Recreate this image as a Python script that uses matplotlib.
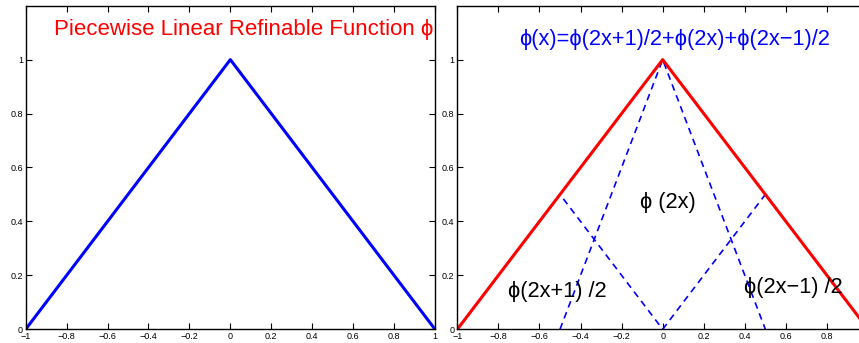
import matplotlib
matplotlib.use("Agg")
import matplotlib.pyplot as plt
from matplotlib.ticker import FuncFormatter

# hat function phi and its refinement pieces
hat_x = [-1, 0, 1]
hat_y = [0, 1, 0]
left_half_x = [-1, -0.5, 0]      # phi(2x+1)/2
left_half_y = [0, 0.5, 0]
mid_x = [-0.5, 0, 0.5]           # phi(2x)
mid_y = [0, 1, 0]
right_half_x = [0, 0.5, 1]       # phi(2x-1)/2
right_half_y = [0, 0.5, 0]

xticks = [-1, -0.8, -0.6, -0.4, -0.2, 0, 0.2, 0.4, 0.6, 0.8, 1]
yticks = [0, 0.2, 0.4, 0.6, 0.8, 1]

fam = ['Liberation Sans', 'DejaVu Sans']
plt.rcParams['font.family'] = fam


def fmt(v, pos):
    s = '%g' % round(v, 4)
    return s.replace('-', '\u2212')


def fmt_right(v, pos):
    # last label falls outside the picture in the original
    return '' if v > 0.99 else fmt(v, pos)


def style(ax):
    ax.set_xlim(-1, 1)
    ax.set_ylim(0, 1.2)
    ax.set_xticks(xticks)
    ax.set_yticks(yticks)
    ax.xaxis.set_major_formatter(FuncFormatter(fmt))
    ax.yaxis.set_major_formatter(FuncFormatter(fmt))
    ax.tick_params(direction='in', top=True, right=True, length=4,
                   width=0.8, labelsize=6.5, pad=2)
    for sp in ax.spines.values():
        sp.set_linewidth(1.0)


fig = plt.figure(figsize=(8.59, 3.43), dpi=100)
ax1 = fig.add_axes([0.0299, 0.040, 0.4765, 0.9434])
ax2 = fig.add_axes([0.5324, 0.040, 0.4781, 0.9434])

ax1.plot(hat_x, hat_y, color='#0000ff', lw=2.2)
style(ax1)
ax1.text(-0.86, 1.113, 'Piecewise Linear Refinable Function \u03d5',
         color='red', fontsize=16, va='center', ha='left')

dash = dict(color='#0000ff', lw=1.2, ls=(0, (4, 3)))
ax2.plot(left_half_x, left_half_y, **dash)
ax2.plot(mid_x, mid_y, **dash)
ax2.plot(right_half_x, right_half_y, **dash)
ax2.plot(hat_x, hat_y, color='red', lw=2.2)
style(ax2)
ax2.xaxis.set_major_formatter(FuncFormatter(fmt_right))
ax2.text(-0.70, 1.075, '\u03d5(x)=\u03d5(2x+1)/2+\u03d5(2x)+\u03d5(2x\u22121)/2',
         color='#0000ff', fontsize=15.7, va='center', ha='left')
ax2.text(-0.11, 0.47, '\u03d5 (2x)', color='black', fontsize=15.7,
         va='center', ha='left')
ax2.text(-0.753, 0.139, '\u03d5(2x+1) /2', color='black', fontsize=15.7,
         va='center', ha='left')
ax2.text(0.396, 0.154, '\u03d5(2x\u22121) /2', color='black', fontsize=15.7,
         va='center', ha='left')

fig.savefig('out.png', dpi=100)
